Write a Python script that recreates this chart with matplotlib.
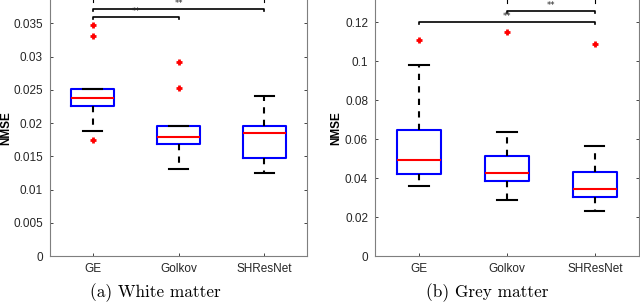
import matplotlib
matplotlib.use("Agg")
import matplotlib.pyplot as plt

methods = ["GE", "Golkov", "SHResNet"]

# white matter: box stats
wm_q1 = [0.02261, 0.01680, 0.01479]
wm_med = [0.02372, 0.01790, 0.01850]
wm_q3 = [0.02517, 0.01956, 0.01956]
wm_lo = [0.01880, 0.01314, 0.01254]
wm_hi = [0.02517, 0.01956, 0.02412]
wm_fliers = [[0.03475, 0.03310, 0.01745], [0.02913, 0.02527], []]

# grey matter
gm_q1 = [0.0423, 0.0387, 0.0301]
gm_med = [0.0493, 0.0426, 0.0346]
gm_q3 = [0.0647, 0.0515, 0.0431]
gm_lo = [0.0361, 0.0288, 0.0233]
gm_hi = [0.0979, 0.0638, 0.0567]
gm_fliers = [[0.1109], [0.1152], [0.1087]]

# significance brackets: (from, to, height)
wm_sig = [(1, 2, 0.0360), (1, 3, 0.0372)]
gm_sig = [(1, 3, 0.1202), (2, 3, 0.1260)]

tick_font = "Liberation Sans"
grey = "#262626"


def draw(ax, q1, med, q3, lo, hi, fliers, sig, ytop, yticks, ylabels, leg, labx):
    stats = []
    for i in range(3):
        stats.append(dict(q1=q1[i], med=med[i], q3=q3[i], whislo=lo[i], whishi=hi[i],
                          fliers=fliers[i]))
    ax.bxp(stats, positions=[1, 2, 3], widths=0.5, capwidths=0.22,
           boxprops=dict(color="#0000ff", linewidth=1.5),
           medianprops=dict(color="#ff0000", linewidth=1.5),
           whiskerprops=dict(color="black", linewidth=1.5, linestyle=(0, (3, 3))),
           capprops=dict(color="black", linewidth=1.5),
           flierprops=dict(marker="+", markeredgecolor="#ff0000", markersize=5,
                           markeredgewidth=2))
    for a, b, h in sig:
        ax.plot([a, a, b, b], [h - leg, h, h, h - leg], color="black", lw=1.2)
        ax.text((a + b) / 2, h + leg * 0.3, "**", ha="center", va="bottom",
                fontsize=6, color=grey)
    # legs of a bracket sitting above the visible area
    a, b, h = sig[-1]
    for x in (a, b):
        ax.plot([x, x], [ytop, ytop - leg * 1.2], color="black", lw=0.8, clip_on=False)
    ax.set_xlim(0.5, 3.5)
    ax.set_ylim(0, ytop)
    ax.set_yticks(yticks)
    ax.set_yticklabels(ylabels, fontsize=8.5, family=tick_font, color=grey)
    ax.set_xticks([1, 2, 3])
    ax.set_xticklabels(methods, fontsize=8.5, family=tick_font, color=grey)
    ax.tick_params(direction="in", length=2.5, width=0.6, right=True, color=grey, pad=5)
    ax.spines["top"].set_visible(False)
    for s in ("left", "right", "bottom"):
        ax.spines[s].set_color("#7f7f7f")
        ax.spines[s].set_linewidth(0.8)
    ax.set_ylabel("NMSE", fontsize=8.5, family=tick_font, fontweight="bold")
    ax.yaxis.set_label_coords(labx, 0.5)


fig = plt.figure(figsize=(6.4, 3.02), dpi=100)
ax1 = fig.add_axes([0.078, 0.152, 0.402, 0.848])
ax2 = fig.add_axes([0.586, 0.152, 0.412, 0.848])

draw(ax1, wm_q1, wm_med, wm_q3, wm_lo, wm_hi, wm_fliers, wm_sig, 0.0385,
     [0, 0.005, 0.01, 0.015, 0.02, 0.025, 0.03, 0.035],
     ["0", "0.005", "0.01", "0.015", "0.02", "0.025", "0.03", "0.035"],
     0.0003, -0.145)
draw(ax2, gm_q1, gm_med, gm_q3, gm_lo, gm_hi, gm_fliers, gm_sig, 0.1314,
     [0, 0.02, 0.04, 0.06, 0.08, 0.1, 0.12],
     ["0", "0.02", "0.04", "0.06", "0.08", "0.1", "0.12"],
     0.0012, -0.125)

fig.text(155 / 640, 1 - 293 / 302, "(a) White matter", ha="center", va="center",
         fontsize=12.4, family="cmr10")
fig.text(487 / 640, 1 - 293 / 302, "(b) Grey matter", ha="center", va="center",
         fontsize=12.4, family="cmr10")

fig.savefig("out.png", dpi=100)
